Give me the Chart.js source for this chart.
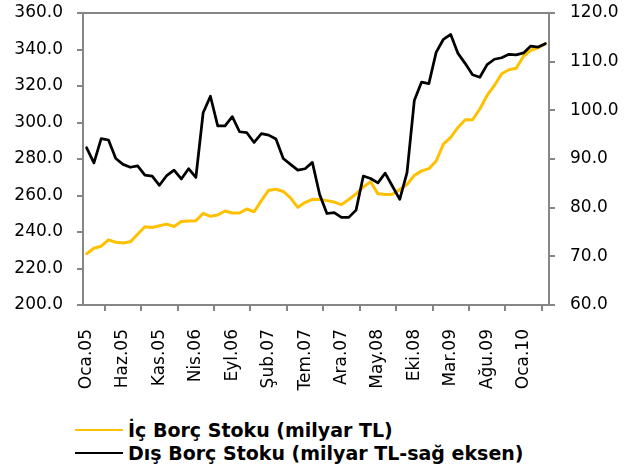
<!DOCTYPE html>
<html lang="tr">
<head>
<meta charset="utf-8">
<title>İç ve Dış Borç Stoku</title>
<script src="https://cdn.jsdelivr.net/npm/chart.js@4/dist/chart.umd.min.js"></script>
<style>
    html, body { margin: 0; padding: 0; background: #fff; }
    #wrap { position: relative; width: 639px; height: 474px; overflow: hidden; }
    #chartBox { position: absolute; left: 0; top: 0; width: 639px; height: 400px; }
    #legend { position: absolute; left: 75px; top: 418px; font-family: "DejaVu Sans", sans-serif;
              font-weight: 700; font-size: 19px; color: #000; }
    #legend .item { display: flex; align-items: center; height: 23px; white-space: nowrap; }
    #legend .swatch { display: inline-block; width: 48px; height: 0; border-top: 2.5px solid; margin-right: 5px; }
</style>
</head>
<body>
<div id="wrap">
    <div id="chartBox"><canvas id="borcChart"></canvas></div>
    <div id="legend"></div>
</div>
<script>
// ay kısaltmaları ve yıllar -> Oca.05 ... Nis.10
const AYLAR = ['Oca', 'Şub', 'Mar', 'Nis', 'May', 'Haz', 'Tem', 'Ağu', 'Eyl', 'Eki', 'Kas', 'Ara'];
const YILLAR = ['05', '06', '07', '08', '09', '10'];
const AY_SAYISI = 64;

const etiketler = [];
for (let i = 0; i < AY_SAYISI; i++) {
    etiketler.push(AYLAR[i % 12] + '.' + YILLAR[Math.floor(i / 12)]);
}

// iç borç stoku, milyar TL (sol eksen)
const icBorc = [
    228.1, 231.1, 232.2, 235.7, 234.4, 234.0, 234.6, 238.8, 242.9, 242.5,
    243.4, 244.3, 243.0, 245.8, 246.0, 246.2, 250.2, 248.6, 249.3, 251.5,
    250.4, 250.4, 252.6, 251.1, 257.2, 262.9, 263.4, 262.2, 258.7, 253.5,
    256.1, 257.9, 257.8, 257.2, 256.4, 255.0, 257.8, 260.9, 264.7, 267.5,
    260.9, 260.5, 260.7, 263.3, 266.0, 271.0, 273.5, 274.7, 278.9, 288.1,
    291.8, 297.3, 301.5, 301.5, 307.4, 314.8, 320.3, 326.7, 328.9, 329.7,
    336.3, 339.6, 340.9, 343.3
];

// dış borç stoku, milyar TL (sağ eksen)
const disBorc = [
    92.3, 89.2, 94.2, 93.9, 90.1, 88.9, 88.3, 88.6, 86.7, 86.5,
    84.6, 86.6, 87.7, 85.9, 88.0, 86.2, 99.5, 102.9, 96.8, 96.8,
    98.7, 95.6, 95.4, 93.4, 95.2, 94.9, 94.1, 90.1, 88.9, 87.7,
    88.0, 89.3, 82.7, 78.8, 79.0, 78.0, 78.0, 79.5, 86.5, 86.0,
    85.1, 87.1, 84.4, 81.7, 87.2, 102.0, 105.8, 105.5, 111.9, 114.6,
    115.6, 111.7, 109.6, 107.3, 106.8, 109.4, 110.5, 110.8, 111.5, 111.4,
    111.8, 113.2, 113.0, 113.7
];

const EKSEN_RENK = '#868686';
const FONT = { family: '"DejaVu Sans", sans-serif', size: 17 };

// üst kenar çizgisi (grafik alanını kutuya alır)
const ustKenar = {
    id: 'ustKenar',
    afterDraw(chart) {
        const a = chart.chartArea;
        const ctx = chart.ctx;
        ctx.save();
        ctx.strokeStyle = EKSEN_RENK;
        ctx.lineWidth = 2;
        ctx.beginPath();
        ctx.moveTo(a.left - 6, a.top);
        ctx.lineTo(a.right + 6, a.top);
        ctx.stroke();
        ctx.restore();
    }
};

// dikey eksenlerin etiket payını sıfırla, alan üstü layout.padding ile belirlensin
function sabitGenislik(w) {
    return function (s) {
        s.width = w;
        s.paddingTop = 0;
        s.paddingBottom = 0;
    };
}

const ctx = document.getElementById('borcChart');
const chart = new Chart(ctx, {
    type: 'line',
    data: {
        labels: etiketler,
        datasets: [{
            label: 'İç Borç Stoku (milyar TL)',
            data: icBorc,
            yAxisID: 'y',
            borderColor: '#FFC000',
            borderWidth: 3,
            order: 1
        }, {
            label: 'Dış Borç Stoku (milyar TL-sağ eksen)',
            data: disBorc,
            yAxisID: 'y1',
            borderColor: '#000000',
            borderWidth: 2.75,
            order: 0
        }]
    },
    options: {
        responsive: true,
        maintainAspectRatio: false,
        animation: false,
        layout: { padding: { top: 13, left: 0, right: 0, bottom: 0 } },
        elements: {
            point: { radius: 0 },
            line: { tension: 0, borderJoinStyle: 'round', borderCapStyle: 'round' }
        },
        plugins: {
            legend: { display: false },
            tooltip: { enabled: false }
        },
        scales: {
            x: {
                offset: true,
                grid: { offset: true, drawOnChartArea: false, color: EKSEN_RENK, lineWidth: 2, tickLength: 6 },
                border: { color: EKSEN_RENK, width: 2 },
                ticks: {
                    autoSkip: false,
                    minRotation: 90,
                    maxRotation: 90,
                    padding: 18,
                    color: '#000',
                    font: FONT,
                    callback: function (v, i) {
                        return i % 5 === 0 ? this.getLabelForValue(v) : null;
                    }
                },
                afterFit: function (s) { s.height = 95; }
            },
            y: {
                position: 'left',
                min: 200,
                max: 360,
                ticks: { stepSize: 20, color: '#000', font: FONT, padding: 14,
                         callback: function (v) { return v.toFixed(1); } },
                grid: { drawOnChartArea: false, color: EKSEN_RENK, lineWidth: 2, tickLength: 6 },
                border: { color: EKSEN_RENK, width: 2 },
                afterFit: sabitGenislik(83)
            },
            y1: {
                position: 'right',
                min: 60,
                max: 120,
                ticks: { stepSize: 10, color: '#000', font: FONT, padding: 15,
                         callback: function (v) { return v.toFixed(1); } },
                grid: { drawOnChartArea: false, color: EKSEN_RENK, lineWidth: 2, tickLength: 6 },
                border: { color: EKSEN_RENK, width: 2 },
                afterFit: sabitGenislik(90)
            }
        }
    },
    plugins: [ustKenar]
});

// alt kısımdaki açıklama, veri setlerinden üretilir
const legendEl = document.getElementById('legend');
chart.data.datasets.forEach(function (ds) {
    const row = document.createElement('div');
    row.className = 'item';
    const sw = document.createElement('span');
    sw.className = 'swatch';
    sw.style.borderTopColor = ds.borderColor;
    row.appendChild(sw);
    row.appendChild(document.createTextNode(ds.label));
    legendEl.appendChild(row);
});
</script>
</body>
</html>
